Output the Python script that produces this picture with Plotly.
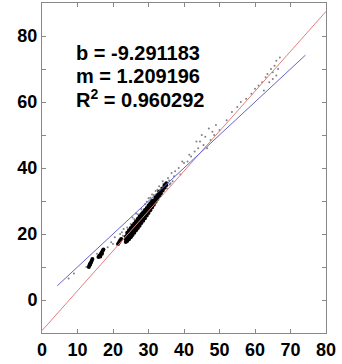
import plotly.graph_objects as go

# Fit parameters (from annotation)
b_fit = -9.291183
m_fit = 1.209196
r2_fit = 0.960292

# Dense core of the scatter (x, y)
core_x = [23.6, 23.6, 23.6,
          24.0, 24.0, 24.0, 24.0,
          24.5, 24.5, 24.5, 24.5,
          25.0, 25.0, 25.0, 25.0,
          25.5, 25.5, 25.5, 25.5,
          26.0, 26.0, 26.0, 26.0,
          26.5, 26.5, 26.5, 26.5,
          27.0, 27.0, 27.0, 27.0,
          27.5, 27.5, 27.5, 27.5,
          28.0, 28.0, 28.0, 28.0,
          28.5, 28.5, 28.5, 28.5,
          29.0, 29.0, 29.0, 29.0,
          29.5, 29.5, 29.5, 29.5,
          30.0, 30.0, 30.0, 30.0,
          30.5, 30.5, 30.5, 30.5,
          31.0, 31.0, 31.0, 31.0,
          31.5, 31.5, 31.5,
          32.0, 32.0, 32.0,
          32.5, 32.5, 32.5,
          33.0, 33.0, 33.0,
          33.5, 33.5,
          34.0, 34.0,
          34.5, 34.5,
          35.0, 35.0,
          13.2, 13.4, 13.6, 13.8, 14.0, 14.2, 13.5,
          15.9, 16.2, 16.5, 16.8, 17.1, 16.4, 16.9, 17.3,
          21.4, 21.7, 22.0, 22.3]
core_y = [17.6, 18.4, 19.2,
          17.9, 18.8, 19.7, 20.4,
          18.4, 19.4, 20.3, 21.1,
          19.0, 20.0, 21.0, 21.8,
          19.7, 20.7, 21.6, 22.5,
          20.4, 21.4, 22.3, 23.2,
          21.1, 22.0, 23.0, 23.9,
          21.8, 22.7, 23.7, 24.6,
          22.5, 23.4, 24.4, 25.3,
          23.3, 24.1, 25.0, 26.0,
          24.0, 24.8, 25.7, 26.6,
          24.8, 25.6, 26.4, 27.3,
          25.6, 26.3, 27.1, 27.9,
          26.4, 27.1, 27.8, 28.6,
          27.2, 27.9, 28.6, 29.3,
          28.0, 28.7, 29.4, 30.0,
          28.9, 29.5, 30.2,
          29.8, 30.4, 31.1,
          30.6, 31.3, 31.9,
          31.5, 32.1, 32.8,
          32.3, 33.0,
          33.2, 33.8,
          34.0, 34.7,
          34.8, 35.4,
          10.0, 10.5, 11.0, 11.4, 11.9, 12.4, 10.8,
          13.0, 13.4, 13.9, 14.4, 14.9, 13.2, 14.0, 15.3,
          17.0, 17.5, 18.0, 18.5]

# Sparse scattered points
sparse_x = [7.5, 9.0, 12.5, 15.5, 18.5, 19.5, 20.0, 20.5, 22.5, 22.8, 23.0, 24.0,
            25.0, 26.0, 27.0, 28.0, 29.0, 30.5, 32.0, 33.0, 33.5, 34.0, 35.5, 36.0,
            36.5, 37.5, 38.5, 39.0, 39.5, 40.0, 41.0, 41.5, 42.0, 43.0, 43.5, 44.0,
            44.5, 45.0, 45.5, 46.0, 46.5, 47.0, 47.5, 48.0, 48.5, 49.0, 50.0, 52.0,
            53.5, 55.0, 56.0, 57.5, 59.0, 60.0, 61.0, 62.0, 62.5, 63.0, 63.5, 64.0,
            64.5, 65.0, 65.5, 66.0, 66.5, 67.0, 66.0, 65.0, 36.8, 37.2, 35.8, 34.8,
            31.5, 32.5, 33.5, 34.2, 35.2, 36.2, 29.5, 30.0, 31.0, 26.5, 25.5, 22.0]
sparse_y = [6.5, 8.0, 10.0, 14.0, 16.0, 17.5, 17.0, 19.0, 20.5, 19.5, 21.5, 22.0,
            23.0, 24.5, 26.0, 27.5, 29.0, 31.0, 33.0, 34.5, 31.5, 36.0, 37.0, 35.0,
            38.5, 39.0, 40.0, 38.0, 42.0, 41.5, 42.0, 44.0, 43.5, 45.0, 48.0, 46.0,
            48.0, 50.0, 47.0, 49.5, 46.0, 52.0, 48.5, 51.0, 50.0, 53.0, 51.5, 54.5,
            57.0, 58.5, 60.0, 61.0, 62.5, 64.0, 65.0, 66.0, 63.5, 67.5, 68.5, 66.0,
            70.0, 69.0, 71.0, 72.5, 70.0, 73.5, 68.0, 67.0, 36.0, 37.5, 36.2, 35.0,
            31.8, 33.4, 34.0, 35.2, 33.8, 35.4, 29.8, 30.8, 32.0, 26.2, 25.0, 20.0]

# Line endpoints
fit_x = [0, 80]
one_x = [4.3, 74.2]

x_ticks = [0, 10, 20, 30, 40, 50, 60, 70, 80]
y_ticks = [0, 20, 40, 60, 80]
y_minor = [-10, 10, 30, 50, 70, 90]

fig = go.Figure()
fig.add_trace(go.Scatter(x=sparse_x, y=sparse_y, mode="markers",
                         marker=dict(color="#808080", size=2), hoverinfo="skip"))
fig.add_trace(go.Scatter(x=core_x, y=core_y, mode="markers",
                         marker=dict(color="black", size=4), hoverinfo="skip"))
fig.add_trace(go.Scatter(x=fit_x, y=[m_fit * v + b_fit for v in fit_x], mode="lines",
                         line=dict(color="#e08080", width=1)))
fig.add_trace(go.Scatter(x=one_x, y=one_x, mode="lines",
                         line=dict(color="#6464c8", width=1)))

font_txt = dict(family="Liberation Sans, Arial, sans-serif", size=20, color="black")
labels = [f"<b>b = {b_fit:.6f}</b>", f"<b>m = {m_fit:.6f}</b>",
          f"<b>R<sup>2</sup> = {r2_fit:.6f}</b>"]
label_y = [75.0, 68.0, 61.0]
for t, yy in zip(labels, label_y):
    fig.add_annotation(x=9.0, y=yy, xref="x", yref="y", text=t, showarrow=False,
                       xanchor="left", yanchor="middle", font=font_txt)

axis_common = dict(showgrid=False, zeroline=False, showline=True, linecolor="#888888",
                   linewidth=1, mirror="ticks", ticks="inside", ticklen=4,
                   tickcolor="#888888", ticklabeloverflow="allow",
                   tickfont=dict(family="Liberation Sans, Arial, sans-serif", size=18,
                                 color="black", weight="bold"))
fig.update_xaxes(range=[0, 80], tickvals=x_ticks, ticktext=[str(v) for v in x_ticks],
                 **axis_common)
fig.update_yaxes(range=[-10, 90], tickvals=y_ticks, ticktext=[str(v) for v in y_ticks],
                 minor=dict(tickvals=y_minor, ticks="inside", ticklen=4,
                            tickcolor="#888888", showgrid=False),
                 **axis_common)

fig.update_layout(width=342, height=364, showlegend=False,
                  margin=dict(l=42, r=16, t=3, b=31),
                  plot_bgcolor="white", paper_bgcolor="white")
fig.write_html("out.html", config={"displayModeBar": False},
               post_script="document.body.style.margin='0';")
